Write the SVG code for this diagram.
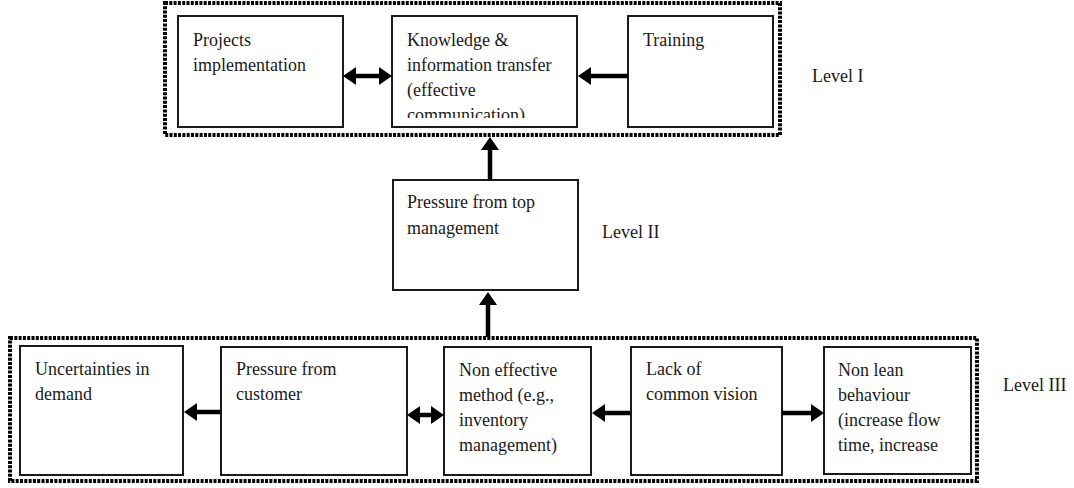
<svg xmlns="http://www.w3.org/2000/svg" width="1074" height="488" viewBox="0 0 1074 488">
<style>
.frame{fill:none;stroke:#000;stroke-width:4;stroke-dasharray:3 1.3}
.box{fill:#fff;stroke:#1a1a1a;stroke-width:2}
.t{font-family:"Liberation Serif","Times New Roman",serif;font-size:18px;fill:#1a1a1a}
.c{fill:none;stroke:#000;stroke-width:4.5}
</style>
<defs>
<marker id="ah" markerUnits="userSpaceOnUse" markerWidth="14" markerHeight="18" refX="0" refY="9" orient="auto-start-reverse">
<path d="M0,0 L13,9 L0,18 z" fill="#000"/>
</marker>
<clipPath id="kclip"><rect x="392" y="16" width="185" height="102"/></clipPath>
</defs>

<g id="frames">
<rect class="frame" x="165" y="3" width="615" height="132"/>
<rect class="frame" x="10" y="338" width="967" height="143"/>
</g>

<g id="projects">
<rect class="box" x="178" y="16" width="165" height="111"/>
<text class="t" x="193" y="46">Projects</text>
<text class="t" x="193" y="71">implementation</text>
</g>

<g id="knowledge">
<rect class="box" x="392" y="16" width="185" height="111"/>
<g clip-path="url(#kclip)">
<text class="t" x="407" y="46">Knowledge &amp;</text>
<text class="t" x="407" y="71">information transfer</text>
<text class="t" x="407" y="96">(effective</text>
<text class="t" x="407" y="121">communication)</text>
</g>
</g>

<g id="training">
<rect class="box" x="628" y="16" width="145" height="111"/>
<text class="t" x="643" y="46">Training</text>
</g>

<g id="pressure-top">
<rect class="box" x="393" y="180" width="185" height="110"/>
<text class="t" x="407" y="208">Pressure from top</text>
<text class="t" x="407" y="234">management</text>
</g>

<g id="uncertainties">
<rect class="box" x="20" y="346" width="163" height="129"/>
<text class="t" x="35" y="375">Uncertainties in</text>
<text class="t" x="35" y="400">demand</text>
</g>

<g id="pressure-customer">
<rect class="box" x="221" y="347" width="186" height="128"/>
<text class="t" x="236" y="375">Pressure from</text>
<text class="t" x="236" y="400">customer</text>
</g>

<g id="non-effective">
<rect class="box" x="444" y="347" width="147" height="128"/>
<text class="t" x="459" y="376">Non effective</text>
<text class="t" x="459" y="401">method (e.g.,</text>
<text class="t" x="459" y="426">inventory</text>
<text class="t" x="459" y="451">management)</text>
</g>

<g id="lack-vision">
<rect class="box" x="631" y="347" width="151" height="128"/>
<text class="t" x="646" y="375">Lack of</text>
<text class="t" x="646" y="400">common vision</text>
</g>

<g id="non-lean">
<rect class="box" x="824" y="347" width="147" height="127"/>
<text class="t" x="838" y="376">Non lean</text>
<text class="t" x="838" y="401">behaviour</text>
<text class="t" x="838" y="426">(increase flow</text>
<text class="t" x="838" y="451">time, increase</text>
</g>

<g id="levels">
<text class="t" x="812" y="82">Level I</text>
<text class="t" x="602" y="238">Level II</text>
<text class="t" x="1003" y="391">Level III</text>
</g>

<g id="connectors">
<line class="c" x1="356" y1="76" x2="379" y2="76" marker-start="url(#ah)" marker-end="url(#ah)"/>
<line class="c" x1="628" y1="76" x2="591" y2="76" marker-end="url(#ah)"/>
<line class="c" x1="490" y1="180" x2="490" y2="150" marker-end="url(#ah)"/>
<line class="c" x1="488" y1="337" x2="488" y2="305" marker-end="url(#ah)"/>
<line class="c" x1="221" y1="412" x2="197" y2="412" marker-end="url(#ah)"/>
<line class="c" x1="420" y1="415" x2="431" y2="415" marker-start="url(#ah)" marker-end="url(#ah)"/>
<line class="c" x1="631" y1="413" x2="605" y2="413" marker-end="url(#ah)"/>
<line class="c" x1="782" y1="413" x2="811" y2="413" marker-end="url(#ah)"/>
</g>
</svg>
